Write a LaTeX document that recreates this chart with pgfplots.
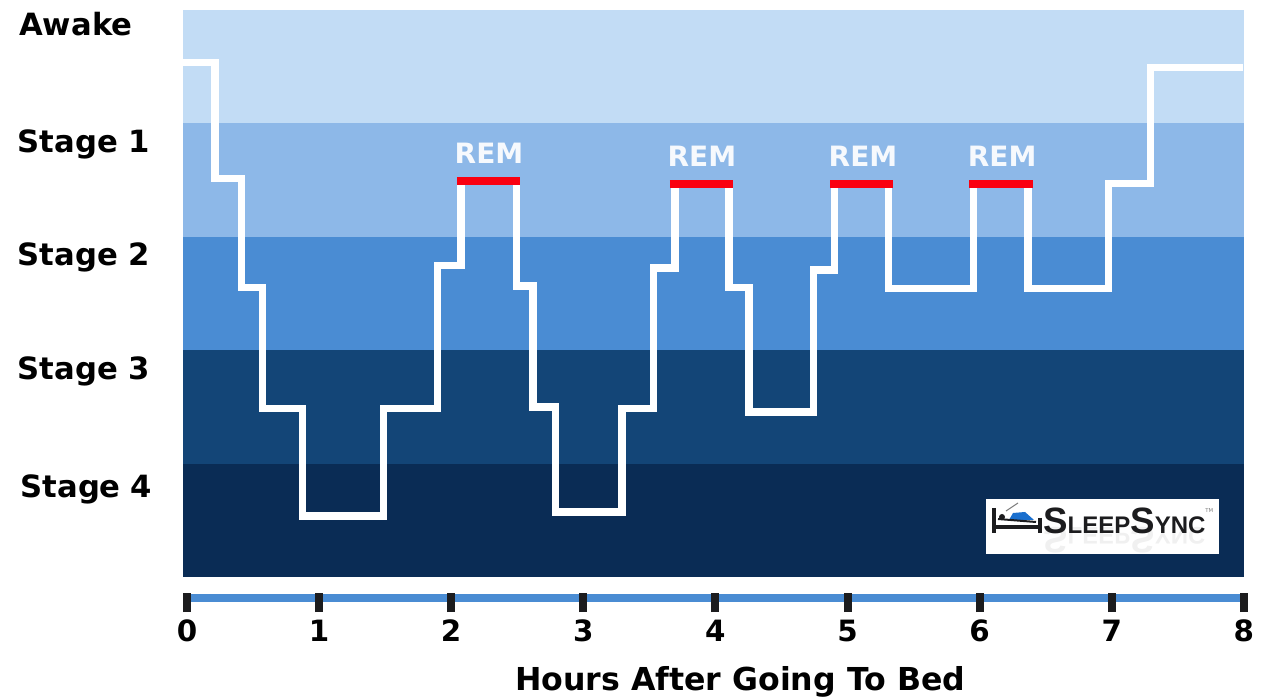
\documentclass[border=0pt]{standalone}
\usepackage{fontspec}
\setmainfont{DejaVu Sans}
\newfontfamily\logofont{Liberation Sans}
\usepackage{pgfplots}
\pgfplotsset{compat=1.18}
\definecolor{bandA}{HTML}{C2DCF5}
\definecolor{bandB}{HTML}{8DB8E8}
\definecolor{bandC}{HTML}{4A8CD3}
\definecolor{bandD}{HTML}{134577}
\definecolor{bandE}{HTML}{0A2C55}
\definecolor{remred}{HTML}{FA0010}
\definecolor{tickc}{HTML}{1C1C1E}
\definecolor{logoblue}{HTML}{1A6FCE}
\newcommand{\logoname}{\logofont\bfseries\fontsize{27.5}{28}\selectfont S\fontsize{18}{20}\selectfont LEEP\fontsize{27.5}{28}\selectfont S\fontsize{18}{20}\selectfont YNC}
\begin{document}
\begin{tikzpicture}
\useasboundingbox (0,0) rectangle (953.25pt,523.5pt);
\begin{axis}[
    at={(137.25pt,75pt)},
    anchor=south west,
    scale only axis,
    width=795.75pt,
    height=441pt,
    clip=false,
    axis on top,
    xmin=-0.03, xmax=8.001,
    ymin=-0.185, ymax=5,
    axis x line=bottom,
    axis y line=left,
    axis line style={draw=none},
    xtick={0,1,2,3,4,5,6,7,8},
    xticklabels={0,1,2,3,4,5,6,7,8},
    xtick align=center,
    major tick length=14.25pt,
    x tick style={draw=tickc, line width=6pt, yshift=-3.4pt},
    y tick style={draw=none},
    ytick={4.89,3.827,2.831,1.825,0.785},
    yticklabels={\hspace*{1pt}Awake,Stage 1,Stage 2,Stage 3,\hspace*{2pt}Stage 4},
    every x tick label/.append style={font=\fontsize{22}{24}\selectfont\bfseries, yshift=-6pt},
    every y tick label/.append style={font=\fontsize{23}{25}\selectfont\bfseries, anchor=east, text width=106pt, align=left, inner sep=0pt, xshift=-10.5pt, yshift=-1pt},
    xlabel={Hours After Going To Bed},
    xlabel style={font=\fontsize{23.7}{25}\selectfont\bfseries, xshift=20pt, yshift=-11.5pt},
]
% sleep stage bands
\addplot[fill=bandE, draw=none] coordinates {(-0.03,0) (8.001,0) (8.001,1) (-0.03,1)} -- cycle;
\addplot[fill=bandD, draw=none] coordinates {(-0.03,1) (8.001,1) (8.001,2) (-0.03,2)} -- cycle;
\addplot[fill=bandC, draw=none] coordinates {(-0.03,2) (8.001,2) (8.001,3) (-0.03,3)} -- cycle;
\addplot[fill=bandB, draw=none] coordinates {(-0.03,3) (8.001,3) (8.001,4) (-0.03,4)} -- cycle;
\addplot[fill=bandA, draw=none] coordinates {(-0.03,4) (8.001,4) (8.001,5) (-0.03,5)} -- cycle;
% time axis bar
\addplot[bandC, line width=6pt] coordinates {(-0.03,-0.185) (8.001,-0.185)};
% hypnogram
\addplot[white, line width=5.3pt, line join=miter] coordinates {
    (-0.03,4.533) (0.212,4.533) (0.212,3.510) (0.416,3.510) (0.416,2.557)
    (0.575,2.557) (0.575,1.490) (0.871,1.490) (0.871,0.538) (1.491,0.538)
    (1.491,1.490) (1.893,1.490) (1.893,2.751) (2.074,2.751) (2.074,3.492)
    (2.491,3.492) (2.491,2.566) (2.619,2.566) (2.619,1.499) (2.793,1.499)
    (2.793,0.573) (3.293,0.573) (3.293,1.490) (3.528,1.490) (3.528,2.725)
    (3.694,2.725) (3.694,3.466) (4.103,3.466) (4.103,2.549) (4.254,2.549)
    (4.254,1.455) (4.739,1.455) (4.739,2.707) (4.898,2.707) (4.898,3.466)
    (5.307,3.466) (5.307,2.540) (5.950,2.540) (5.950,3.466) (6.366,3.466)
    (6.366,2.540) (6.972,2.540) (6.972,3.466) (7.290,3.466) (7.290,4.489)
    (7.994,4.489)
};
% REM periods
\addplot[remred, line width=6pt] coordinates {(2.044,3.492) (2.521,3.492)};
\addplot[remred, line width=6pt] coordinates {(3.656,3.466) (4.133,3.466)};
\addplot[remred, line width=6pt] coordinates {(4.868,3.466) (5.345,3.466)};
\addplot[remred, line width=6pt] coordinates {(5.920,3.466) (6.404,3.466)};
\node[white!92!bandB, font=\fontsize{21}{22}\selectfont\bfseries] at (axis cs:2.286,3.735) {REM};
\node[white!92!bandB, font=\fontsize{21}{22}\selectfont\bfseries] at (axis cs:3.898,3.71) {REM};
\node[white!92!bandB, font=\fontsize{21}{22}\selectfont\bfseries] at (axis cs:5.117,3.71) {REM};
\node[white!92!bandB, font=\fontsize{21}{22}\selectfont\bfseries] at (axis cs:6.170,3.71) {REM};
\end{axis}
% logo, in reference pixel coordinates
\begin{scope}[shift={(0,523.5pt)}, x=0.75pt, y=-0.75pt]
\fill[white] (986,499) rectangle (1219,554);
\node[anchor=west, inner sep=0pt, text=black, opacity=.06, yscale=-1] at (1043,540) {\logoname};
\fill[logoblue] (1009,520) -- (1013,513) -- (1025,512) -- (1034,520) -- cycle;
\draw[tickc, line width=2.6pt] (994,508) -- (994,533) (994,527) -- (1040,527) (1040,518) -- (1040,533);
\draw[tickc, line width=1.5pt] (998,519) -- (1036,522);
\fill[tickc] (1002,517) circle (3);
\draw[gray, line width=.8pt] (1006,511) -- (1018,503);
\node[anchor=west, inner sep=0pt, text=tickc] at (1043,521) {\logoname};
\node[anchor=west, inner sep=0pt, text=gray] at (1205,511) {\fontsize{4}{5}\selectfont TM};
\end{scope}
\end{tikzpicture}
\end{document}
